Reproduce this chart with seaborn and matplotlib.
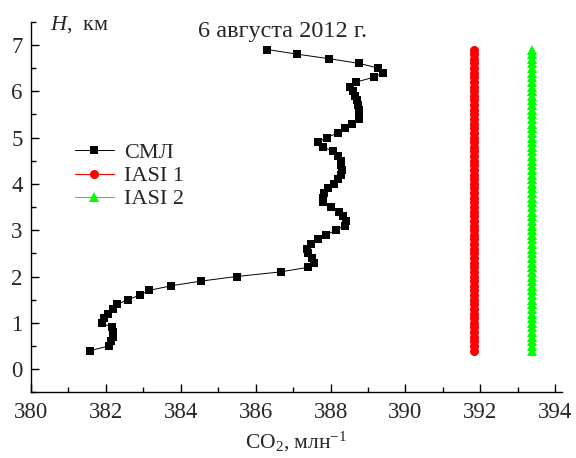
import matplotlib
matplotlib.use("Agg")
import matplotlib.pyplot as plt
import numpy as np
import pandas as pd
import seaborn as sns
from matplotlib.ticker import MultipleLocator

# Altitude grid of the profiles, km
heights = [0.4, 0.5, 0.6, 0.7, 0.8, 0.9, 1.0, 1.1, 1.2, 1.3, 1.4, 1.5, 1.6, 1.7,
           1.8, 1.9, 2.0, 2.1, 2.2, 2.3, 2.4, 2.5, 2.6, 2.7, 2.8, 2.9, 3.0, 3.1,
           3.2, 3.3, 3.4, 3.5, 3.6, 3.7, 3.8, 3.9, 4.0, 4.1, 4.2, 4.3, 4.4, 4.5,
           4.6, 4.7, 4.8, 4.9, 5.0, 5.1, 5.2, 5.3, 5.4, 5.5, 5.6, 5.7, 5.8, 5.9,
           6.0, 6.1, 6.2, 6.3, 6.4, 6.5, 6.6, 6.7, 6.8, 6.9]

# Aircraft-lab (СМЛ) CO2 profile, ppm
cml = [381.57, 382.09, 382.13, 382.18, 382.19, 382.16, 381.89, 381.95, 382.06,
       382.18, 382.30, 382.59, 382.91, 383.15, 383.75, 384.53, 385.49, 386.67,
       387.41, 387.57, 387.51, 387.39, 387.37, 387.47, 387.66, 387.89, 388.14,
       388.38, 388.41, 388.34, 388.22, 388.00, 387.81, 387.79, 387.82, 387.93,
       388.09, 388.19, 388.27, 388.30, 388.29, 388.27, 388.21, 388.07, 387.79,
       387.67, 387.90, 388.19, 388.39, 388.58, 388.75, 388.76, 388.75, 388.73,
       388.71, 388.66, 388.59, 388.53, 388.69, 389.15, 389.41, 389.27, 388.77,
       387.97, 387.10, 386.31]

# Satellite column values (constant over the profile), ppm
iasi1_value = 391.82
iasi2_value = 393.38

series_labels = ["СМЛ", "IASI 1", "IASI 2"]
x_ticks = [380, 382, 384, 386, 388, 390, 392, 394]
y_ticks = [0, 1, 2, 3, 4, 5, 6, 7]

df = pd.DataFrame({
    "H": heights * 3,
    "co2": cml + [iasi1_value] * len(heights) + [iasi2_value] * len(heights),
    "src": [series_labels[0]] * len(heights) + [series_labels[1]] * len(heights)
           + [series_labels[2]] * len(heights),
})

sns.set_style("ticks")
plt.rcParams["font.family"] = ["Liberation Serif", "DejaVu Serif"]
plt.rcParams["mathtext.fontset"] = "custom"
plt.rcParams["mathtext.rm"] = "Liberation Serif"
plt.rcParams["mathtext.it"] = "Liberation Serif:italic"
plt.rcParams["axes.unicode_minus"] = True

fig = plt.figure(figsize=(5.76, 4.58), dpi=100)
ax = fig.add_axes([0.0538, 0.1434, 0.9219, 0.8092])

styles = {
    "СМЛ": dict(color="black", marker="s", markersize=5.8, linewidth=0.7,
                markeredgewidth=0),
    "IASI 1": dict(color="#ff0000", marker="o", markersize=6.5, linewidth=0.8,
                   markeredgewidth=0),
    "IASI 2": dict(color="#00ff00", marker="^", markersize=7.5, linewidth=0.8,
                   markeredgewidth=0),
}
for name in series_labels:
    sub = df[df["src"] == name]
    sns.lineplot(data=sub, x="co2", y="H", sort=False, estimator=None,
                 ax=ax, label=name, **styles[name])

ax.set_xlim(380, 394.18)
ax.set_ylim(-0.5, 7.5)
ax.set_xticks(x_ticks)
ax.set_yticks(y_ticks)
ax.xaxis.set_minor_locator(MultipleLocator(1))
ax.yaxis.set_minor_locator(MultipleLocator(0.5))
for s in ("top", "right"):
    ax.spines[s].set_visible(False)
for s in ("left", "bottom"):
    ax.spines[s].set_linewidth(1.0)
    ax.spines[s].set_color("black")
ax.tick_params(which="major", direction="in", length=6, width=1.0,
               labelsize=16.5, color="black")
ax.tick_params(which="minor", direction="in", length=3.5, width=1.0,
               color="black")
ax.tick_params(axis="x", which="major", pad=7)
ax.tick_params(axis="y", which="major", pad=6)

ax.set_xlabel(r"CO$_2$, млн$^{-1}$", fontsize=15.5, labelpad=5)
ax.set_ylabel("")

fig.text(50 / 576, 1 - 30 / 458, r"$H$,  км", fontsize=16, va="baseline",
         ha="left")
fig.text(283 / 576, 1 - 36.5 / 458, "6 августа 2012 г.", fontsize=17.5,
         va="baseline", ha="center")

leg = ax.legend(loc="center left", bbox_to_anchor=(75 / 576, 1 - 176 / 458),
                bbox_transform=fig.transFigure, frameon=False, fontsize=16,
                handlelength=1.75, handletextpad=0.45, labelspacing=0.12,
                borderpad=0, borderaxespad=0)

fig.savefig("out.png", dpi=100)
